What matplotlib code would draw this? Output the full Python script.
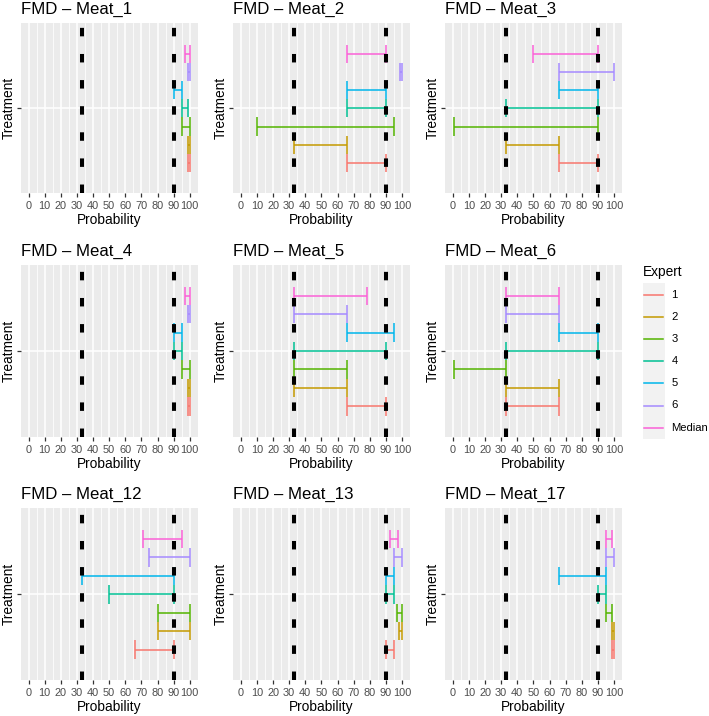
import matplotlib
matplotlib.use("Agg")
import matplotlib.pyplot as plt
from matplotlib.patches import Rectangle
from matplotlib.ticker import FixedLocator

plt.rcParams['font.family'] = ['Liberation Sans', 'DejaVu Sans']
plt.rcParams['lines.scale_dashes'] = False

# ---------------- data ----------------
EXPERTS = ["1", "2", "3", "4", "5", "6", "Median"]
COLORS = ["#F8766D", "#C49A00", "#53B400", "#00C094", "#00B6EB", "#A58AFF", "#FB61D7"]
PANEL_TITLES = ["FMD – Meat_1", "FMD – Meat_2", "FMD – Meat_3",
                "FMD – Meat_4", "FMD – Meat_5", "FMD – Meat_6",
                "FMD – Meat_12", "FMD – Meat_13", "FMD – Meat_17"]
THRESHOLDS = [33.3, 90]
X_TICKS = [0, 10, 20, 30, 40, 50, 60, 70, 80, 90, 100]

# lower / upper probability per expert (1..6, Median)
MEAT_1_LO = [99, 99, 95, 95, 90, 99, 97]
MEAT_1_HI = [100, 100, 100, 99, 95, 100, 100]
MEAT_2_LO = [66, 33, 10, 66, 66, 98.5, 66]
MEAT_2_HI = [90, 66, 95, 90, 90, 100, 90]
MEAT_3_LO = [66, 33, 1, 33, 66, 66, 50]
MEAT_3_HI = [90, 66, 90, 90, 90, 100, 90]
MEAT_4_LO = [99, 99, 95, 90, 90, 99, 97]
MEAT_4_HI = [100, 100, 100, 95, 95, 100, 100]
MEAT_5_LO = [66, 33, 33, 33, 66, 33, 33]
MEAT_5_HI = [90, 66, 66, 90, 95, 66, 78]
MEAT_6_LO = [33, 33, 1, 33, 66, 33, 33]
MEAT_6_HI = [66, 66, 33, 90, 90, 66, 66]
MEAT_12_LO = [66, 80, 80, 50, 33, 75, 71]
MEAT_12_HI = [90, 100, 100, 90, 90, 100, 95]
MEAT_13_LO = [90, 98, 97, 90, 90, 95, 92.5]
MEAT_13_HI = [95, 100, 100, 95, 95, 100, 97.5]
MEAT_17_LO = [99, 99, 95, 90, 66, 95, 95]
MEAT_17_HI = [100, 100, 99, 95, 95, 100, 99]

LOWS = [MEAT_1_LO, MEAT_2_LO, MEAT_3_LO, MEAT_4_LO, MEAT_5_LO, MEAT_6_LO,
        MEAT_12_LO, MEAT_13_LO, MEAT_17_LO]
HIGHS = [MEAT_1_HI, MEAT_2_HI, MEAT_3_HI, MEAT_4_HI, MEAT_5_HI, MEAT_6_HI,
         MEAT_12_HI, MEAT_13_HI, MEAT_17_HI]

# ---------------- layout ----------------
W, H = 709, 716
fig = plt.figure(figsize=(W / 100, H / 100), dpi=100)

COL_LEFT = [20.6, 232.8, 444.8]
PANEL_W = 177.2
ROW_TOP = [23.3, 265.0, 508.3]
ROW_H = [170.0, 172.0, 172.0]

n = len(EXPERTS)
dodge = 0.9 / n
BG = "#EBEBEB"

for k, title in enumerate(PANEL_TITLES):
    r, c = divmod(k, 3)
    left = COL_LEFT[c]
    top = ROW_TOP[r]
    h = ROW_H[r]
    ax = fig.add_axes([left / W, 1 - (top + h) / H, PANEL_W / W, h / H])
    ax.set_facecolor(BG)
    for s in ax.spines.values():
        s.set_visible(False)
    ax.set_xlim(-5, 105)
    ax.set_ylim(0.4, 1.6)
    ax.set_xticks(X_TICKS)
    ax.set_xticklabels([str(t) for t in X_TICKS])
    ax.xaxis.set_minor_locator(FixedLocator([5, 15, 25, 35, 45, 55, 65, 75, 85, 95]))
    ax.set_yticks([1])
    ax.set_yticklabels([""])
    ax.set_axisbelow(True)
    ax.grid(which="major", color="white", lw=1.1)
    ax.grid(which="minor", axis="x", color="white", lw=0.55)
    ax.tick_params(which="major", length=2.6, width=0.9, color="#333333",
                   labelsize=7.9, labelcolor="#4D4D4D", pad=3.0)
    ax.tick_params(which="minor", length=0)

    lo = LOWS[k]
    hi = HIGHS[k]
    for i in range(n):
        y = 1 + (i - (n - 1) / 2) * dodge
        ax.hlines(y, lo[i], hi[i], color=COLORS[i], lw=1.1, zorder=2)
        ax.vlines([lo[i], hi[i]], y - dodge / 2, y + dodge / 2,
                  color=COLORS[i], lw=1.1, zorder=2)
    for t in THRESHOLDS:
        ax.axvline(t, color="black", lw=2.9, ls=(0, (6.1, 12.7)),
                   dash_capstyle="butt", zorder=3)

    ax.set_title(title, loc="left", fontsize=12.1, pad=6.6, color="black")
    ax.set_xlabel("Probability", fontsize=9.9, labelpad=1.5, color="black")
    ax.set_ylabel("Treatment", fontsize=9.9, color="black")
    ax.yaxis.set_label_coords(-0.029, 0.5)

# ---------------- legend ----------------
lax = fig.add_axes([0, 0, 1, 1], zorder=-1)
lax.set_xlim(0, W)
lax.set_ylim(H, 0)
lax.axis("off")
lax.text(643, 276, "Expert", fontsize=9.9, ha="left", va="baseline", color="black")
lax.add_patch(Rectangle((643, 283), 22, 156, facecolor="#F2F2F2", edgecolor="none"))
for i, (lab, col) in enumerate(zip(EXPERTS, COLORS)):
    y = 294.5 + 22.2 * i
    lax.plot([644.3, 662.7], [y, y], color=col, lw=1.1)
    lax.text(671.5, y, lab, fontsize=8.1, ha="left", va="center", color="black")

fig.savefig("out.png", dpi=100)
